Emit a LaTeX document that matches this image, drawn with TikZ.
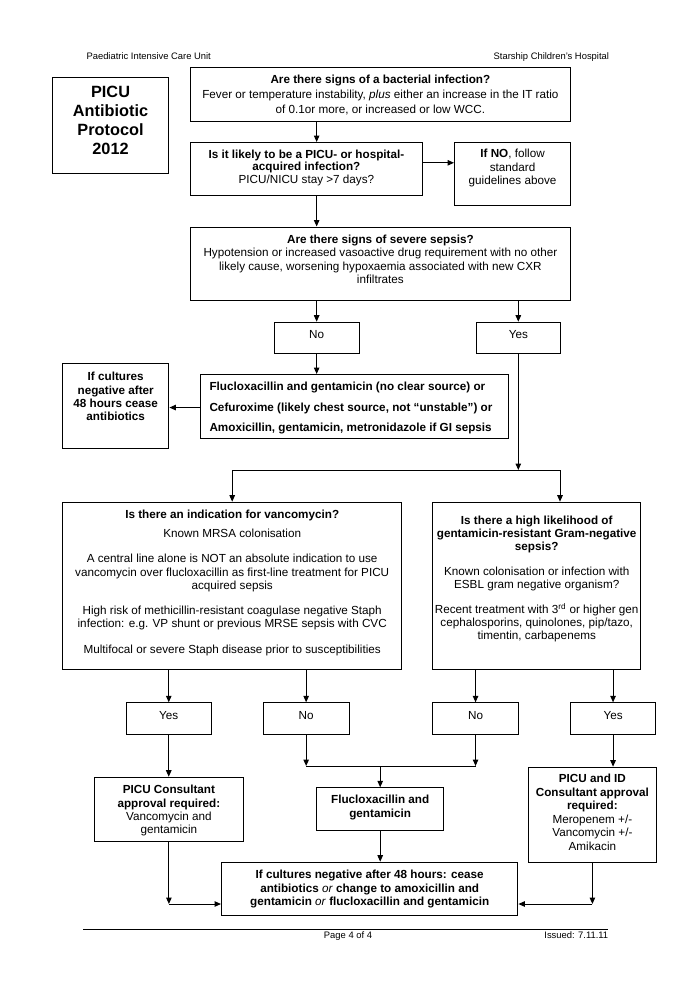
\documentclass[tikz,border=0pt]{standalone}
\usepackage{fontspec}
\setmainfont{Liberation Sans}
\usetikzlibrary{arrows.meta,calc}
\newcommand{\bxt}[5]{\parbox[c][#2pt][t]{#1pt}{\centering\baselineskip=#4pt\relax\rule{0pt}{#3pt}#5}}
\newcommand{\bxl}[5]{\parbox[c][#2pt][t]{#1pt}{\raggedright\leftskip=9pt\relax\baselineskip=#4pt\relax\rule{0pt}{#3pt}#5}}
\newcommand{\cln}[1]{\makebox[0pt]{#1}}
\begin{document}
\begin{tikzpicture}[x=1pt,y=-1pt,
  every node/.style={font=\fontsize{11.7}{13.5}\selectfont},
  box/.style={draw, line width=1.1pt, inner sep=0pt, anchor=north west},
  arr/.style={line width=1pt, -{Triangle[length=6.5pt,width=5.5pt]}},
  ln/.style={line width=1pt},
  small/.style={font=\fontsize{9.4}{11}\selectfont}]
\path[fill=white] (0,0) rectangle (700,991);
\useasboundingbox (0,0) rectangle (700,991);

% header
\node[small, anchor=base west] (hl) at (83,59.1) {Paediatric Intensive Care Unit};
\node[small, anchor=base east] (hr) at (612.5,59.1) {Starship Children’s Hospital};

% title
\node[box, font=\fontsize{16.3}{19}\selectfont\bfseries] (title) at (51.7,77.3)
  {\bxt{116.6}{95.4}{19.5}{19}{PICU\\Antibiotic\\Protocol\\2012}};

% top questions
\node[box] (q1) at (189.7,67) {\bxt{380.3}{54}{15.5}{15}{{\bfseries Are there signs of a bacterial infection?}\\Fever or temperature instability, \textit{plus} either an increase in the IT ratio\\of 0.1or more, or increased or low WCC.}};
\node[box] (q2) at (189.7,142) {\bxt{232.3}{52.5}{15.5}{12.6}{{\bfseries Is it likely to be a PICU- or hospital-\\acquired infection?}\\PICU/NICU stay >7 days?}};
\node[box] (ifno) at (454,141.5) {\bxt{116}{63}{15.4}{13.6}{{\bfseries If NO}, follow\\standard\\guidelines above}};
\node[box] (q3) at (189.7,226.5) {\bxt{380.3}{73.5}{16}{13.5}{{\bfseries Are there signs of severe sepsis?}\\Hypotension or increased vasoactive drug requirement with no other\\likely cause, worsening hypoxaemia associated with new CXR\\infiltrates}};

\node[box] (no) at (273.7,321.7) {\bxt{84.8}{31}{15.8}{13.5}{No}};
\node[box] (yes) at (475.5,321.7) {\bxt{84.5}{31}{15.8}{13.5}{Yes}};

\node[box] (flu) at (200,374) {\bxl{307.6}{63.5}{16.2}{20.3}{\bfseries Flucloxacillin and gentamicin (no clear source) or\\Cefuroxime (likely chest source, not “unstable”) or\\Amoxicillin, gentamicin, metronidazole if GI sepsis}};
\node[box] (cult) at (62,363.3) {\bxt{106.3}{85}{16.9}{13.3}{\bfseries If cultures\\negative after\\48 hours cease\\antibiotics}};

% second level questions
\node[box] (vanco) at (62.3,501.7) {\bxt{338.7}{167.6}{16.5}{13.4}{{\bfseries Is there an indication for vancomycin?}\\[5.3pt]
Known MRSA colonisation\\[12pt]
A central line alone is NOT an absolute indication to use\\
vancomycin over flucloxacillin as first-line treatment for PICU\\
acquired sepsis\\[11.4pt]
High risk of methicillin-resistant coagulase negative Staph\\
infection: e.g. VP shunt or previous MRSE sepsis with CVC\\[12pt]
Multifocal or severe Staph disease prior to susceptibilities}};
\node[box] (gent) at (432.3,501.7) {\bxt{207.7}{167.6}{21.8}{13}{{\bfseries Is there a high likelihood of\\\cln{gentamicin-resistant Gram-negative}\\sepsis?}\\[12.2pt]
Known colonisation or infection with\\
ESBL gram negative organism?\\[12.6pt]
\cln{Recent treatment with 3\textsuperscript{rd} or higher gen}\\
cephalosporins, quinolones, pip/tazo,\\
timentin, carbapenems}};

\node[box] (yes1) at (125.7,702.3) {\bxt{85}{32}{16.2}{13.5}{Yes}};
\node[box] (no1) at (262.7,702.3) {\bxt{85.8}{32}{16.2}{13.5}{No}};
\node[box] (no2) at (432.3,702.3) {\bxt{85.4}{32}{16.2}{13.5}{No}};
\node[box] (yes2) at (570,702.3) {\bxt{85}{32}{16.2}{13.5}{Yes}};

\node[box] (pcons) at (94,776.7) {\bxt{148.7}{64}{16.5}{13.3}{{\bfseries PICU Consultant\\approval required:}\\Vancomycin and\\gentamicin}};
\node[box] (flu2) at (316,787.3) {\bxt{127.3}{42.7}{15.9}{13.5}{\bfseries Flucloxacillin and\\gentamicin}};
\node[box] (pid) at (527.7,766.7) {\bxt{128.3}{95}{15.5}{13.5}{{\bfseries PICU and ID\\Consultant approval\\required:}\\Meropenem +/-\\Vancomycin +/-\\Amikacin}};
\node[box] (fin) at (221,861.7) {\bxt{296.3}{53.3}{16.5}{13.5}{\bfseries If cultures negative after 48 hours: cease\\antibiotics \textmd{\itshape or} change to amoxicillin and\\gentamicin \textmd{\itshape or} flucloxacillin and gentamicin}};

% connectors
\coordinate (lvlA) at (0,470);
\coordinate (lvlB) at (0,766);
\coordinate (lvlC) at (0,904);
\draw[arr] (q1.south -| no) -- (q2.north -| no);
\draw[arr] ([yshift=6pt]q2.east) -- ([yshift=6pt]q2.east -| ifno.west);
\draw[arr] (q2.south -| no) -- (q3.north -| no);
\draw[arr] (q3.south -| no) -- (no);
\draw[arr] (q3.south -| yes) -- (yes);
\draw[arr] (no) -- (no |- flu.north);
\draw[arr] ([yshift=-1.25pt]flu.west) -- ([yshift=-1.25pt]flu.west -| cult.east);

\coordinate (split) at (yes |- lvlA);
\coordinate (bl) at (vanco.north |- lvlA);
\coordinate (br) at (560,470);
\draw[arr] (yes) -- (split);
\draw[ln] (bl) -- (br);
\draw[arr] (bl) -- (vanco.north);
\draw[arr] (br) -- (br |- gent.north);

\draw[arr] (vanco.south -| yes1) -- (yes1);
\draw[arr] (vanco.south -| no1) -- (no1);
\draw[arr] (gent.south -| no2) -- (no2);
\draw[arr] (gent.south -| yes2) -- (yes2);

\draw[arr] (yes1) -- (yes1 |- pcons.north);
\draw[arr] (yes2) -- (yes2 |- pid.north);
\coordinate (m1) at (no1 |- lvlB);
\coordinate (m2) at (no2 |- lvlB);
\draw[arr] (no1) -- (m1);
\draw[arr] (no2) -- (m2);
\draw[ln] (m1) -- (m2);
\draw[arr] (flu2 |- lvlB) -- (flu2);
\draw[arr] (flu2) -- (flu2 |- fin.north);

\coordinate (cl) at (pcons |- lvlC);
\coordinate (cr) at (pid |- lvlC);
\draw[arr] (pcons) -- (cl);
\draw[arr] (cl) -- (cl -| fin.west);
\draw[arr] (pid) -- (cr);
\draw[arr] (cr) -- (cr -| fin.east);

% footer
\coordinate (fl) at (83,929.3);
\coordinate (fr) at (608,929.3);
\draw[line width=0.8pt] (fl) -- (fr);
\node[small, anchor=base] (page) at (348,938.4) {Page 4 of 4};
\node[small, anchor=base east] (iss) at (611.7,938.4) {Issued: 7.11.11};
\end{tikzpicture}
\end{document}
